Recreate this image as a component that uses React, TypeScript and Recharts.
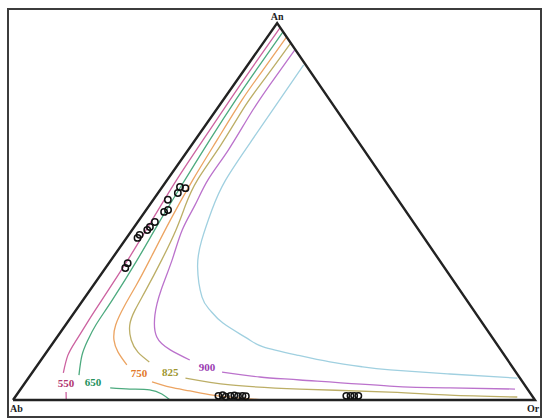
import React from 'react'
import { ScatterChart, Scatter, XAxis, YAxis } from 'recharts'

// every point is [An %, Or %] (Ab is the rest)
type Tern = [number, number]

// the apex sits a little right of the base midpoint in this plot
const SKEW = 0.506

const triangle: Tern[] = [[0, 0], [0, 100], [100, 0], [0, 0]]
const vertexNames = ['Ab', 'Or', 'An']
const vertexPos: Tern[] = [[0, 0], [0, 100], [100, 0]]

// isotherms (°C)
const iso550: Tern[] = [
    [98.7, 1.2], [88.1, 1.2], [79.6, 1.3], [69.0, 1.5], [58.4, 1.8], [47.7, 2.5],
    [37.1, 3.2], [26.5, 3.6], [21.2, 3.8], [15.9, 4.1], [11.9, 4.5], [7.2, 6.0],
]
const iso550tick: Tern[] = [[2.1, 9.1], [0, 10.2]]
const iso650: Tern[] = [
    [97.6, 2.3], [87.5, 2.3], [79.6, 2.4], [69.0, 2.8], [58.4, 3.4], [47.7, 4.1],
    [37.1, 5.0], [26.5, 5.6], [19.9, 5.8], [15.9, 6.3], [11.9, 7.2], [6.6, 9.3],
]
const iso650b: Tern[] = [[3.2, 17.0], [2.9, 20.9], [2.7, 24.8], [1.6, 27.7], [0, 30.1]]
const iso750: Tern[] = [
    [96.3, 3.7], [86.7, 3.6], [79.6, 3.6], [69.0, 4.2], [58.4, 4.9], [47.7, 6.0],
    [37.1, 7.4], [30.5, 8.2], [25.2, 8.7], [19.9, 9.6], [15.9, 11.3], [12.7, 13.7], [9.3, 17.1],
]
const iso750b: Tern[] = [[4.8, 24.2], [3.4, 28.4], [2.4, 32.7], [1.3, 37.6], [0.5, 43.3], [0, 48.3]]
const iso825: Tern[] = [
    [94.7, 5.3], [85.4, 5.1], [78.2, 5.0], [67.6, 5.6], [58.4, 5.8], [51.7, 6.9],
    [45.1, 8.4], [37.1, 9.7], [29.2, 10.7], [23.9, 11.3], [19.9, 12.3], [15.9, 14.6],
    [12.7, 17.5], [10.1, 21.0],
]
const iso825b: Tern[] = [[5.8, 30.1], [4.0, 39.6], [2.9, 53.5], [2.1, 71.1], [1.3, 83.0], [0.8, 96.2]]
const iso900: Tern[] = [
    [92.8, 7.0], [83.6, 6.9], [75.6, 7.1], [66.3, 7.7], [58.4, 7.8], [51.7, 8.7],
    [45.1, 9.6], [37.1, 11.7], [29.2, 13.6], [22.5, 15.8], [16.7, 19.1], [13.3, 23.4], [10.6, 28.5],
]
const iso900b: Tern[] = [[7.4, 36.3], [6.1, 44.2], [5.3, 52.3], [3.7, 70.3], [3.2, 82.1], [2.9, 94.7]]
const iso1000: Tern[] = [
    [88.9, 10.7], [79.6, 10.8], [69.0, 10.9], [58.4, 11.2], [50.4, 12.6], [42.4, 14.7],
    [35.3, 17.5], [27.3, 22.4], [23.9, 25.6], [20.4, 29.9], [16.4, 36.5], [14.1, 40.8],
    [11.9, 48.4], [10.1, 55.6], [8.8, 62.5], [8.0, 68.2], [6.9, 80.2], [5.8, 93.7],
]

const isoLabels = ['550', '650', '750', '825', '900']
const isoLabelPos: Tern[] = [[4.5, 7.9], [4.8, 12.9], [7.2, 20.5], [7.4, 26.4], [8.8, 32.7]]

// feldspar analyses
const plagioclase: Tern[] = [
    [56.5, 3.4], [56.2, 4.6], [54.9, 3.8], [53.1, 2.8], [50.4, 4.2], [49.9, 3.7],
    [47.2, 3.3], [45.9, 3.0], [45.1, 2.9], [43.8, 2.1], [43.0, 2.1], [36.3, 3.6], [35.0, 3.8],
]
const alkaliA: Tern[] = [
    [1.1, 38.8], [1.3, 39.5], [0.9, 40.3], [1.1, 41.1], [1.2, 41.8], [1.0, 42.6], [1.1, 43.4], [1.0, 44.1],
]
const alkaliB: Tern[] = [[1.1, 63.3], [1.1, 64.1], [1.1, 64.8], [1.1, 65.6]]

const toXY = (pts: Tern[]) => pts.map(([an, or]) => ({ x: or + an * SKEW, y: an }))

const lineColors = {
    c550: '#cc62a0',
    c650: '#4caa7e',
    c750: '#eca462',
    c825: '#bcae66',
    c900: '#bb72cc',
    c1000: '#a0d0e0',
}
const labelColors = ['#b2356f', '#24915c', '#e27a2a', '#9e9630', '#9a3cb2']

const serif = '"Liberation Serif", "Times New Roman", serif'
const noDot = () => <g />

const Ring = (p: any) => (
    <circle cx={p.cx} cy={p.cy} r={3.2} fill="none" stroke="#111" strokeWidth={1.5} />
)

const IsoLabel = (p: any) => (
    <text x={p.cx} y={p.cy} dy={4} textAnchor="middle" fill={p.payload.color}
        fontSize={11} fontWeight="bold" fontFamily={serif}>
        {p.payload.label}
    </text>
)

const vertexStyle: Record<string, { dx: number; dy: number; anchor: 'start' | 'middle' }> = {
    Ab: { dx: -3, dy: 12, anchor: 'start' },
    Or: { dx: -2, dy: 12, anchor: 'middle' },
    An: { dx: 0, dy: -3, anchor: 'middle' },
}

const VertexLabel = (p: any) => {
    const s = vertexStyle[p.payload.label]
    return (
        <text x={p.cx + s.dx} y={p.cy + s.dy} textAnchor={s.anchor} fill="#222"
            fontSize={10} fontWeight="bold" fontFamily={serif}>
            {p.payload.label}
        </text>
    )
}

export default function App() {
    const labels = isoLabels.map((label, i) => ({ ...toXY([isoLabelPos[i]])[0], label, color: labelColors[i] }))
    const vertices = vertexNames.map((label, i) => ({ ...toXY([vertexPos[i]])[0], label }))

    const curves: [Tern[], string][] = [
        [iso550, lineColors.c550],
        [iso550tick, lineColors.c550],
        [iso650, lineColors.c650],
        [iso650b, lineColors.c650],
        [iso750, lineColors.c750],
        [iso750b, lineColors.c750],
        [iso825, lineColors.c825],
        [iso825b, lineColors.c825],
        [iso900, lineColors.c900],
        [iso900b, lineColors.c900],
        [iso1000, lineColors.c1000],
    ]

    return (
        <div style={{ position: 'absolute', left: 0, top: 0, width: 543, height: 418, background: '#fff' }}>
            <ScatterChart width={543} height={418} margin={{ top: 23, right: 8, bottom: 18, left: 13 }}>
                <XAxis type="number" dataKey="x" domain={[0, 100]} hide />
                <YAxis type="number" dataKey="y" domain={[0, 100]} hide />
                {curves.map(([pts, color], i) => (
                    <Scatter
                        key={i}
                        data={toXY(pts)}
                        line={{ stroke: color, strokeWidth: 1.3 }}
                        lineJointType="natural"
                        shape={noDot}
                        isAnimationActive={false}
                    />
                ))}
                <Scatter
                    data={toXY(triangle)}
                    line={{ stroke: '#222', strokeWidth: 2.4 }}
                    shape={noDot}
                    isAnimationActive={false}
                />
                <Scatter data={toXY(plagioclase)} shape={Ring} isAnimationActive={false} />
                <Scatter data={toXY(alkaliA)} shape={Ring} isAnimationActive={false} />
                <Scatter data={toXY(alkaliB)} shape={Ring} isAnimationActive={false} />
                <Scatter data={labels} shape={IsoLabel} isAnimationActive={false} />
                <Scatter data={vertices} shape={VertexLabel} isAnimationActive={false} />
            </ScatterChart>
            <div
                style={{
                    position: 'absolute', left: 7, top: 8, width: 535, height: 410,
                    border: '2px solid #3c3c3c', boxSizing: 'border-box', pointerEvents: 'none',
                }}
            />
        </div>
    )
}
